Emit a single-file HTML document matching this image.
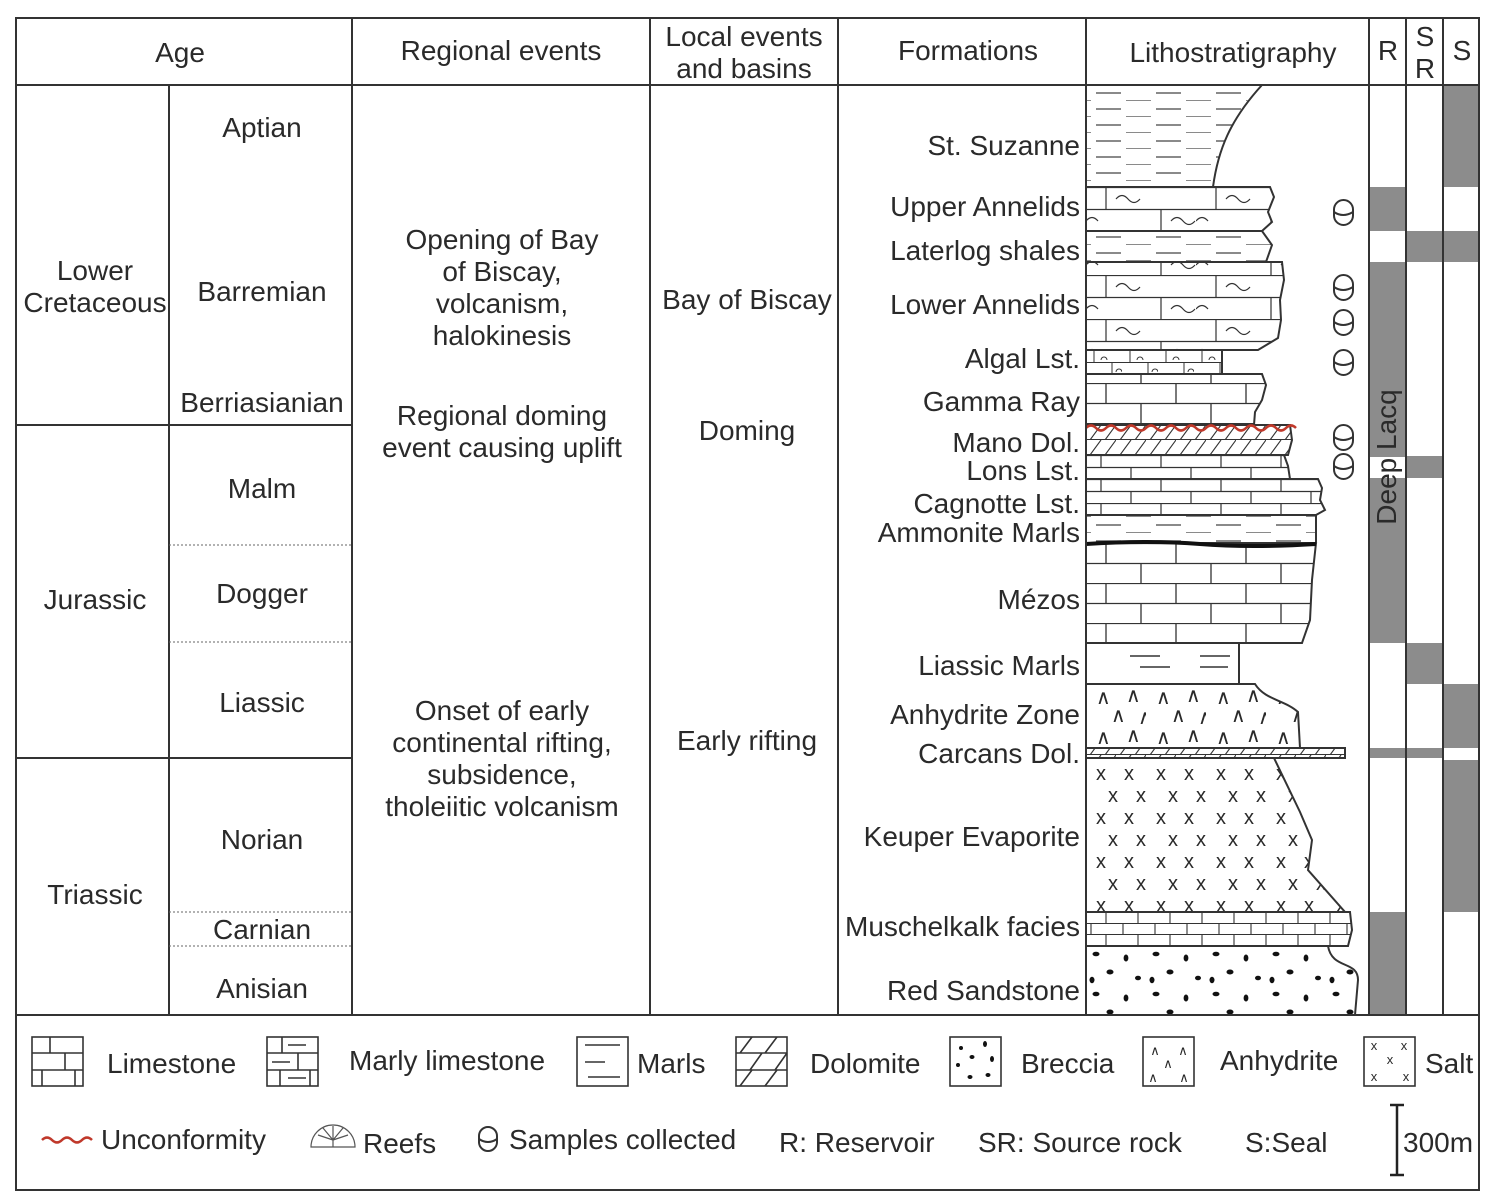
<!DOCTYPE html>
<html><head><meta charset="utf-8"><style>
html,body{margin:0;padding:0;background:#fff;}
svg{display:block;}
text{font-family:"Liberation Sans",Arial,sans-serif;fill:#2a2a2a;}
</style></head><body>
<svg width="1488" height="1198" viewBox="0 0 1488 1198" xmlns="http://www.w3.org/2000/svg">
<defs>
<pattern id="lime" width="70" height="40" patternUnits="userSpaceOnUse" x="1086" y="543">
<rect width="70" height="40" fill="#fff"/>
<path d="M0 0.5H70M0 20.5H70M20 0V20M55 20V40" stroke="#333" stroke-width="1.3"/>
</pattern>
<pattern id="limeS" width="60" height="24" patternUnits="userSpaceOnUse" x="1086" y="479">
<rect width="60" height="24" fill="#fff"/>
<path d="M0 0.5H60M0 12.5H60M15 0V12M45 12V24" stroke="#333" stroke-width="1.2"/>
</pattern>
<pattern id="limeT" width="64" height="34" patternUnits="userSpaceOnUse" x="1086" y="912">
<rect width="64" height="34" fill="#fff"/>
<path d="M0 0.5H64M0 11.5H64M0 22.5H64M20 0V11M52 0V11M5 11V22M37 11V22M20 22V34M52 22V34" stroke="#333" stroke-width="1.1"/>
</pattern>
<pattern id="annel" width="110" height="44" patternUnits="userSpaceOnUse" x="1086" y="187">
<rect width="110" height="44" fill="#fff"/>
<path d="M0 0.5H110M0 22.5H110M20 0V22M75 22V44" stroke="#333" stroke-width="1.2"/>
<path d="M30 12q6-7 12 0t12 0M85 34q6-7 12 0t12 0M0 34q6-7 12 0" stroke="#333" fill="none" stroke-width="1.2"/>
</pattern>
<pattern id="marl" width="120" height="16" patternUnits="userSpaceOnUse" x="1086" y="85">
<rect width="120" height="16" fill="#fff"/>
<path d="M10 8H35M70 8H95M40 16H65M100 16H120M0 16H5" stroke="#444" stroke-width="1.3"/>
</pattern>
<pattern id="dolo" width="30" height="15" patternUnits="userSpaceOnUse" x="1086" y="425">
<rect width="30" height="15" fill="#fff"/>
<path d="M0 14.5H30M4 15L15 0M19 15L30 0" stroke="#333" stroke-width="1.1"/>
</pattern>
<pattern id="salt" width="60" height="44" patternUnits="userSpaceOnUse" x="1086" y="762">
<rect width="60" height="44" fill="#fff"/>
<text x="10" y="18" font-size="20">x</text><text x="38" y="18" font-size="20">x</text>
<text x="22" y="40" font-size="20">x</text><text x="50" y="40" font-size="20">x</text>
</pattern>
<pattern id="anhy" width="60" height="40" patternUnits="userSpaceOnUse" x="1086" y="684">
<rect width="60" height="40" fill="#fff"/>
<text x="10" y="20" font-size="20">∧</text><text x="40" y="18" font-size="20">∧</text>
<text x="25" y="38" font-size="20">∧</text><text x="52" y="40" font-size="20">∧</text>
</pattern>
<pattern id="brec" width="60" height="40" patternUnits="userSpaceOnUse" x="1086" y="946">
<rect width="60" height="40" fill="#fff"/>
<ellipse cx="10" cy="8" rx="3.5" ry="2.3" fill="#111"/><ellipse cx="40" cy="12" rx="2.4" ry="3.5" fill="#111"/>
<ellipse cx="24" cy="26" rx="3.5" ry="2.5" fill="#111"/><ellipse cx="52" cy="32" rx="3" ry="2.3" fill="#111"/>
<ellipse cx="6" cy="34" rx="2.5" ry="3.2" fill="#111"/>
</pattern>
<pattern id="algal" width="36" height="24" patternUnits="userSpaceOnUse" x="1086" y="350">
<rect width="36" height="24" fill="#fff"/>
<path d="M0 0.5H36M0 12.5H36M8 0V12M26 12V24" stroke="#333" stroke-width="1"/>
<path d="M15 10a3 3 0 0 1 6 0M30 22a3 3 0 0 1 6 0" stroke="#333" fill="none"/>
</pattern>
</defs>

<g fill="#8c8c8c">
<rect x="1369" y="187" width="37" height="44"/>
<rect x="1369" y="262" width="37" height="195"/>
<rect x="1369" y="478" width="37" height="165"/>
<rect x="1369" y="748" width="37" height="10"/>
<rect x="1369" y="912" width="37" height="103"/>
<rect x="1406" y="231" width="37" height="31"/>
<rect x="1406" y="456" width="37" height="22"/>
<rect x="1406" y="643" width="37" height="41"/>
<rect x="1406" y="748" width="37" height="10"/>
<rect x="1443" y="85" width="36" height="102"/>
<rect x="1443" y="231" width="36" height="31"/>
<rect x="1443" y="684" width="36" height="64"/>
<rect x="1443" y="760" width="36" height="152"/>
</g>
<text transform="translate(1396,457) rotate(-90)" font-size="28" text-anchor="middle" fill="#222">Deep Lacq</text>

<g stroke="#333" stroke-width="2">
<path d="M1086 85H1262C1230 120 1218 150 1213 187H1086Z" fill="url(#marl)"/>
<path d="M1086 187H1270L1274 197L1268 212L1272 222L1262 231H1086Z" fill="url(#annel)"/>
<path d="M1086 231H1262L1272 245L1266 262H1086Z" fill="url(#marl)"/>
<path d="M1086 262H1282L1284 280L1280 300L1281 320L1278 338L1258 350H1086Z" fill="url(#annel)"/>
<path d="M1086 350H1222V374H1086Z" fill="url(#algal)"/>
<path d="M1086 374H1262L1266 385L1262 400L1255 412L1254 425H1086Z" fill="url(#lime)"/>
<path d="M1086 425H1290L1292 440L1288 455H1086Z" fill="url(#dolo)"/>
<path d="M1086 455H1284L1288 466L1290 479H1086Z" fill="url(#limeS)"/>
<path d="M1086 479H1318L1322 488L1320 500L1325 510L1316 515H1086Z" fill="url(#limeS)"/>
<path d="M1086 515H1316L1316 543H1086Z" fill="url(#marl)"/>
<path d="M1086 543H1316L1312 580L1310 620L1302 643H1086Z" fill="url(#lime)"/>
<path d="M1086 643H1239V684H1086Z" fill="#fff"/>
<path d="M1086 684H1255C1265 700 1285 700 1298 712L1300 748H1086Z" fill="url(#anhy)"/>
<path d="M1086 748H1345V758H1086Z" fill="url(#dolo)"/>
<path d="M1086 758H1274L1300 812L1312 840L1308 870L1345 912H1086Z" fill="url(#salt)"/>
<path d="M1086 912H1350L1352 930L1348 946H1086Z" fill="url(#limeT)"/>
<path d="M1086 946H1328C1332 970 1358 960 1358 980L1355 1015H1086Z" fill="url(#brec)"/>
</g>
<path d="M1130 656H1160M1200 656H1230M1140 667H1170M1200 667H1228" stroke="#333" stroke-width="1.5"/>
<path d="M1086 544Q1150 540 1200 544T1316 544" stroke="#111" stroke-width="4" fill="none"/>
<path d="M1086 428 q5 -5 10 0 t10 0 t10 0 t10 0 t10 0 t10 0 t10 0 t10 0 t10 0 t10 0 t10 0 t10 0 t10 0 t10 0 t10 0 t10 0 t10 0 t10 0 t10 0 t10 0 t10 0" stroke="#c0392b" stroke-width="2.5" fill="none"/>

<g stroke="#333" stroke-width="2" fill="#fff">
<g id="smp"><rect x="1334" y="200" width="19" height="25" rx="9.5"/><path d="M1334 212Q1343 218 1353 212" fill="none"/></g>
<use href="#smp" y="75"/><use href="#smp" y="110"/><use href="#smp" y="150"/><use href="#smp" y="225"/><use href="#smp" y="254"/>
</g>

<g stroke="#333" stroke-width="2" fill="none">
<rect x="16" y="18" width="1463" height="1172"/>
<path d="M16 85H1479M16 1015H1479"/>
<path d="M352 18V1015M650 18V1015M838 18V1015M1086 18V1015M1369 18V1015M1406 18V1015M1443 18V1015M169 85V1015"/>
<path d="M16 425H352M16 758H352"/>
</g>
<g stroke="#666" stroke-width="1" stroke-dasharray="2 2">
<path d="M169 545H352M169 642H352M169 912H352M169 946H352"/>
</g>

<g font-size="28" text-anchor="middle">
<text x="180" y="62">Age</text>
<text x="501" y="60">Regional events</text>
<text x="744" y="46">Local events</text>
<text x="744" y="78">and basins</text>
<text x="968" y="60">Formations</text>
<text x="1233" y="62">Lithostratigraphy</text>
<text x="1388" y="60">R</text>
<text x="1425" y="46">S</text><text x="1425" y="78">R</text>
<text x="1462" y="60">S</text>

<text x="95" y="280">Lower</text>
<text x="95" y="312">Cretaceous</text>
<text x="95" y="609">Jurassic</text>
<text x="95" y="904">Triassic</text>

<text x="262" y="137">Aptian</text>
<text x="262" y="301">Barremian</text>
<text x="262" y="412">Berriasianian</text>
<text x="262" y="498">Malm</text>
<text x="262" y="603">Dogger</text>
<text x="262" y="712">Liassic</text>
<text x="262" y="849">Norian</text>
<text x="262" y="939">Carnian</text>
<text x="262" y="998">Anisian</text>

<text x="502" y="249">Opening of Bay</text>
<text x="502" y="281">of Biscay,</text>
<text x="502" y="313">volcanism,</text>
<text x="502" y="345">halokinesis</text>
<text x="502" y="425">Regional doming</text>
<text x="502" y="457">event causing uplift</text>
<text x="502" y="720">Onset of early</text>
<text x="502" y="752">continental rifting,</text>
<text x="502" y="784">subsidence,</text>
<text x="502" y="816">tholeiitic volcanism</text>

<text x="747" y="309">Bay of Biscay</text>
<text x="747" y="440">Doming</text>
<text x="747" y="750">Early rifting</text>
</g>
<g font-size="28" text-anchor="end">
<text x="1080" y="155">St. Suzanne</text>
<text x="1080" y="216">Upper Annelids</text>
<text x="1080" y="260">Laterlog shales</text>
<text x="1080" y="314">Lower Annelids</text>
<text x="1080" y="368">Algal Lst.</text>
<text x="1080" y="411">Gamma Ray</text>
<text x="1080" y="452">Mano Dol.</text>
<text x="1080" y="480">Lons Lst.</text>
<text x="1080" y="513">Cagnotte Lst.</text>
<text x="1080" y="542">Ammonite Marls</text>
<text x="1080" y="609">Mézos</text>
<text x="1080" y="675">Liassic Marls</text>
<text x="1080" y="724">Anhydrite Zone</text>
<text x="1080" y="763">Carcans Dol.</text>
<text x="1080" y="846">Keuper Evaporite</text>
<text x="1080" y="936">Muschelkalk facies</text>
<text x="1080" y="1000">Red Sandstone</text>
</g>

<g stroke="#333" stroke-width="1.6" fill="#fff">
<rect x="32" y="1037" width="51" height="49"/>
<path d="M32 1053H83M32 1070H83M50 1037V1053M65 1053V1070M42 1070V1086M75 1070V1086" fill="none"/>
<rect x="267" y="1037" width="51" height="49"/>
<path d="M267 1053H318M267 1070H318M282 1037V1053M298 1053V1070M280 1070V1086M310 1070V1086M288 1045H306M272 1062H290M288 1078H306" fill="none"/>
<rect x="577" y="1037" width="51" height="49"/>
<path d="M585 1045H620M585 1062H605M588 1077H620" fill="none"/>
<rect x="736" y="1037" width="51" height="49"/>
<path d="M736 1053H787M736 1070H787M740 1053L752 1037M765 1053L777 1037M750 1070L762 1053M775 1070L787 1053M740 1086L752 1070M765 1086L777 1070" fill="none"/>
<rect x="950" y="1037" width="51" height="49"/>
<rect x="1143" y="1037" width="51" height="49"/>
<rect x="1364" y="1037" width="51" height="49"/>
</g>
<g fill="#111">
<ellipse cx="961" cy="1048" rx="2" ry="2"/><ellipse cx="985" cy="1044" rx="2" ry="3"/><ellipse cx="972" cy="1057" rx="2.5" ry="2"/>
<ellipse cx="958" cy="1065" rx="2" ry="2"/><ellipse cx="992" cy="1059" rx="2" ry="3"/><ellipse cx="970" cy="1077" rx="2.5" ry="2"/><ellipse cx="988" cy="1075" rx="2.5" ry="2"/>
</g>
<g font-size="13" text-anchor="middle">
<text x="1155" y="1055">∧</text><text x="1183" y="1055">∧</text><text x="1168" y="1068">∧</text><text x="1153" y="1082">∧</text><text x="1184" y="1082">∧</text>
<text x="1374" y="1050">x</text><text x="1404" y="1050">x</text><text x="1390" y="1064">x</text><text x="1374" y="1081">x</text><text x="1406" y="1081">x</text>
</g>
<g font-size="28">
<text x="107" y="1073">Limestone</text>
<text x="349" y="1070">Marly limestone</text>
<text x="637" y="1073">Marls</text>
<text x="810" y="1073">Dolomite</text>
<text x="1021" y="1073">Breccia</text>
<text x="1220" y="1070">Anhydrite</text>
<text x="1425" y="1073">Salt</text>
<text x="101" y="1149">Unconformity</text>
<text x="363" y="1153">Reefs</text>
<text x="509" y="1149">Samples collected</text>
<text x="779" y="1152">R: Reservoir</text>
<text x="978" y="1152">SR: Source rock</text>
<text x="1245" y="1152">S:Seal</text>
<text x="1403" y="1152">300m</text>
</g>
<path d="M42 1140q5 -5 10 0t10 0t10 0t10 0t10 0" stroke="#c0392b" stroke-width="2.5" fill="none"/>
<path d="M311 1147A22 22 0 0 1 355 1147Z M333 1147V1126M333 1140L318 1135M333 1140L348 1135M333 1140L323 1128M333 1140L343 1128" stroke="#555" stroke-width="1.2" fill="none"/>
<g stroke="#333" stroke-width="2" fill="none"><rect x="479" y="1127" width="18" height="24" rx="9"/><path d="M479 1139Q488 1145 497 1139"/></g>
<path d="M1390 1105H1404M1397 1105V1175M1390 1175H1404" stroke="#222" stroke-width="2.5" fill="none"/>
</svg>
</body></html>
